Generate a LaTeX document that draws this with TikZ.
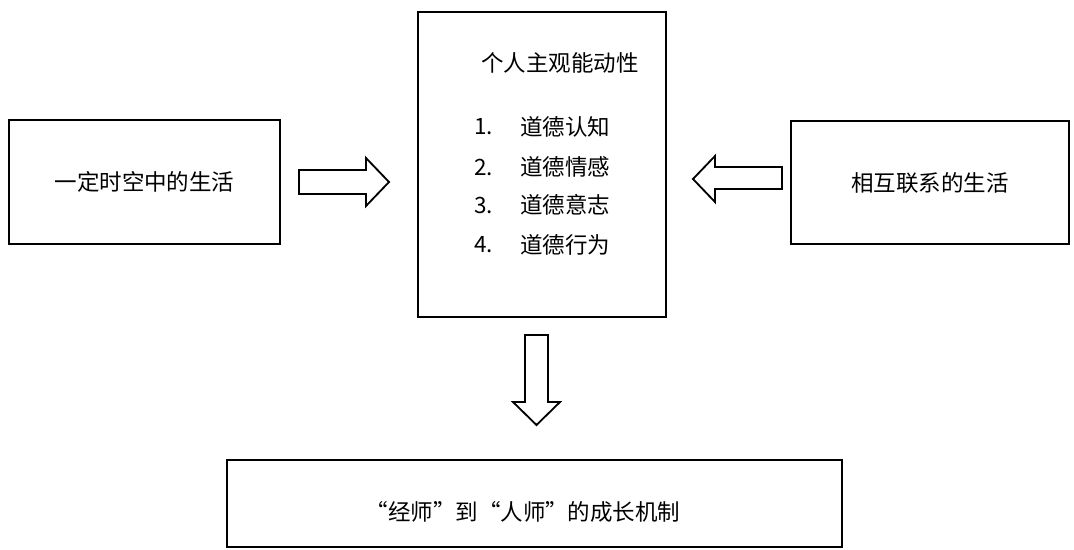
\documentclass[tikz,border=0pt]{standalone}
\usepackage{fontspec}
\setmainfont{Noto Sans CJK SC}
\tikzset{
  box/.style={draw, line width=1.6pt, inner sep=0pt},
  label/.style={font=\fontsize{16}{20}\selectfont, inner sep=0pt},
  hollow/.style={draw, line width=1.3pt, line join=miter, fill=white}
}
\begin{document}
\begin{tikzpicture}[x=0.025cm, y=-0.025cm]
\useasboundingbox (0,0) rectangle (1074,549);

% Boxes
\node[box, minimum width=6.78cm, minimum height=3.1cm]
(space) at (144.5,182) {};
\node[label] at (144.5,182) {一定时空中的生活};

\node[box, minimum width=6.2cm, minimum height=7.62cm]
(agency) at (542,164.5) {};

\node[box, minimum width=6.95cm, minimum height=3.08cm]
(links) at (930,182.5) {};
\node[label] at (930,182.5) {相互联系的生活};

\node[box, minimum width=15.38cm, minimum height=2.18cm]
(growth) at (534.5,503.5) {};
\node[label] (growthtext) at (523,512) {“经师”到“人师”的成长机制};

% Inside the middle box
\node[label] (title) at (560,63) {个人主观能动性};
\foreach \n/\t/\y in {1/道德认知/127, 2/道德情感/167, 3/道德意志/205, 4/道德行为/245}
{
  \node[label, anchor=west] (num\n) at (474,\y) {\n.};
  \node[label, anchor=west] (item\n) at (520,\y) {\t};
}

% Hollow arrows
\draw[hollow]
(299,170) -- (366,170) -- (366,158) -- (389,182)
-- (366,206) -- (366,194) -- (299,194) -- cycle;

\draw[hollow]
(782,167) -- (715,167) -- (715,156) -- (693,179)
-- (715,202) -- (715,189) -- (782,189) -- cycle;

\draw[hollow]
(525,335) -- (525,402) -- (513,402) -- (536.5,425)
-- (560,402) -- (548,402) -- (548,335) -- cycle;

\end{tikzpicture}
\end{document}
